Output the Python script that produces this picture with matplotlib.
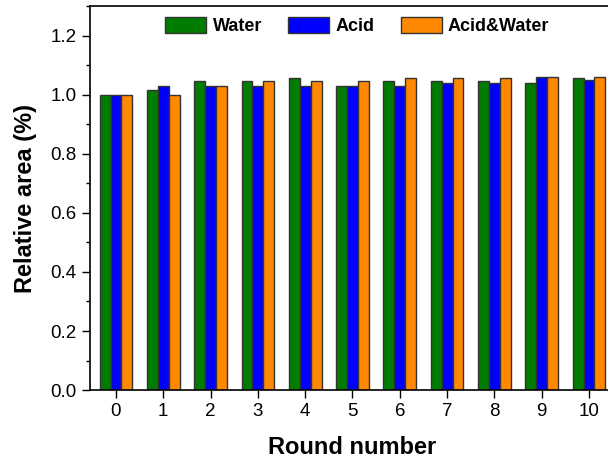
"""Relative area bar chart over rounds."""

import matplotlib.pyplot as plt
import numpy as np
from matplotlib.ticker import MultipleLocator

plt.rcParams['font.family'] = ['Liberation Sans', 'DejaVu Sans']

rounds = list(range(11))
water = [1.0, 1.015, 1.045, 1.045, 1.055, 1.03, 1.045, 1.045, 1.045, 1.04, 1.055]
acid = [1.0, 1.03, 1.03, 1.03, 1.03, 1.03, 1.03, 1.04, 1.04, 1.06, 1.05]
acid_water = [1.0, 1.0, 1.03, 1.045, 1.045, 1.045, 1.055, 1.055, 1.055, 1.06, 1.06]

fig = plt.figure(figsize=(6.08, 4.65), dpi=100)
ax = fig.add_axes([0.148, 0.161, 0.8635, 0.826])

x = np.arange(len(rounds))
w = 0.23
ax.bar(x - w, water, w, color='#007d00', edgecolor='#333333', linewidth=1, label='Water')
ax.bar(x, acid, w, color='#0000ff', edgecolor='#333333', linewidth=1, label='Acid')
ax.bar(x + w, acid_water, w, color='#ff8800', edgecolor='#333333', linewidth=1, label='Acid&Water')

ax.set_xlim(-0.55, 10.55)
ax.set_ylim(0, 1.3)
ax.set_xticks(x)
ax.set_xticklabels([str(r) for r in rounds])
ax.yaxis.set_major_locator(MultipleLocator(0.2))
ax.yaxis.set_minor_locator(MultipleLocator(0.1))
ax.yaxis.set_major_formatter(plt.FormatStrFormatter('%.1f'))
ax.tick_params(axis='both', which='major', direction='out', length=6, width=1, labelsize=13.5)
ax.tick_params(axis='y', which='minor', direction='out', length=3, width=1)
for s in ax.spines.values():
    s.set_linewidth(1.2)

ax.set_xlabel('Round number', fontsize=17, fontweight='bold', labelpad=11)
ax.set_ylabel('Relative area (%)', fontsize=17, fontweight='bold', labelpad=10)

leg = ax.legend(loc='upper center', bbox_to_anchor=(0.509, 1.015), ncol=3, frameon=False,
                prop={'weight': 'bold', 'size': 13}, handlelength=2.27, handleheight=1.05,
                columnspacing=1.45, handletextpad=0.35)

fig.savefig('out.png', dpi=100)
